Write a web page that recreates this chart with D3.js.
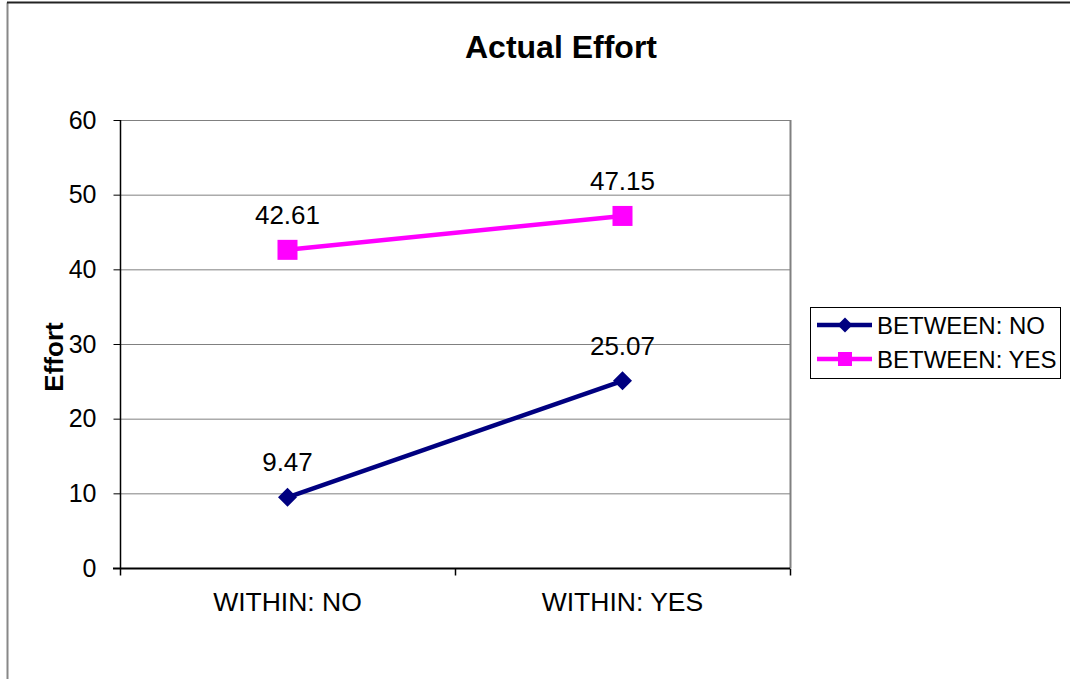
<!DOCTYPE html>
<html>
<head>
<meta charset="utf-8">
<script src="https://cdn.jsdelivr.net/npm/d3@7"></script>
<style>
  html, body { margin: 0; padding: 0; background: #fff; }
  svg { display: block; font-family: Arial, "Liberation Sans", sans-serif; }
</style>
</head>
<body>
<svg id="chart" width="1070" height="679"></svg>
<script>
// Data
const categories = ["WITHIN: NO", "WITHIN: YES"];
const seriesNames = ["BETWEEN: NO", "BETWEEN: YES"];
const betweenNo = [9.47, 25.07];
const betweenYes = [42.61, 47.15];
const yTicks = [0, 10, 20, 30, 40, 50, 60];

const series = [
  { name: seriesNames[0], values: betweenNo, color: "#000080", marker: "diamond" },
  { name: seriesNames[1], values: betweenYes, color: "#FF00FF", marker: "square" }
];

const svg = d3.select("#chart");
const W = 1070, H = 679;
const plot = { left: 120, right: 790, top: 120, bottom: 568 };
const FONT = "Arial, 'Liberation Sans', sans-serif";

// Outer chart frame
svg.append("line").attr("x1", 7.5).attr("x2", 7.5).attr("y1", 2.5).attr("y2", H)
  .attr("stroke", "#888").attr("stroke-width", 2);
svg.append("line").attr("x1", 7).attr("x2", W).attr("y1", 2.5).attr("y2", 2.5)
  .attr("stroke", "#222").attr("stroke-width", 2);

const x = d3.scaleBand().domain(categories).range([plot.left, plot.right]);
const y = d3.scaleLinear().domain([0, 60]).range([plot.bottom, plot.top]);

// Gridlines
svg.append("g").selectAll("line").data(yTicks.filter(d => d > 0)).join("line")
  .attr("x1", plot.left).attr("x2", plot.right)
  .attr("y1", d => y(d) + 0.5).attr("y2", d => y(d) + 0.5)
  .attr("stroke", "#808080").attr("stroke-width", 1);

// Plot area right border
svg.append("line").attr("x1", plot.right + 0.5).attr("x2", plot.right + 0.5)
  .attr("y1", plot.top).attr("y2", plot.bottom)
  .attr("stroke", "#808080").attr("stroke-width", 2);

// Y axis
const yAxis = d3.axisLeft(y).tickValues(yTicks).tickSize(7).tickPadding(17);
const gy = svg.append("g").attr("transform", `translate(${plot.left + 0.5},0)`).call(yAxis);
gy.attr("font-size", null).attr("font-family", null);
gy.select(".domain").attr("stroke", "#000").attr("stroke-width", 1.5).attr("d", `M0,${plot.top}V${plot.bottom}`);
gy.selectAll(".tick line").attr("stroke", "#000");
gy.selectAll(".tick text").attr("font-size", 25).attr("fill", "#000")
  .attr("font-family", FONT);

// X axis with ticks at category boundaries
const gx = svg.append("g").attr("transform", `translate(0,${plot.bottom + 0.5})`);
gx.append("line").attr("x1", plot.left - 7).attr("x2", plot.right)
  .attr("stroke", "#000").attr("stroke-width", 2);
const bounds = [plot.left, ...categories.map(c => x(c) + x.bandwidth())];
gx.selectAll("line.tk").data(bounds).join("line").attr("class", "tk")
  .attr("x1", d => d + 0.5).attr("x2", d => d + 0.5).attr("y1", 0).attr("y2", 7)
  .attr("stroke", "#000").attr("stroke-width", 1.5);
gx.selectAll("text").data(categories).join("text")
  .attr("x", d => x(d) + x.bandwidth() / 2).attr("y", 42)
  .attr("text-anchor", "middle").attr("font-size", 26.5).attr("fill", "#000")
  .text(d => d);

// Title
svg.append("text").attr("x", 561).attr("y", 58).attr("text-anchor", "middle")
  .attr("font-size", 32).attr("font-weight", "bold").text("Actual Effort");

// Y axis title
svg.append("text").attr("transform", "translate(63,357) rotate(-90)")
  .attr("text-anchor", "middle").attr("font-size", 26).attr("font-weight", "bold")
  .text("Effort");

const cx = c => x(c) + x.bandwidth() / 2;
const line = d3.line().x((d, i) => cx(categories[i])).y(d => y(d));

function drawMarker(g, type, color, px, py, s) {
  if (type === "diamond") {
    g.append("path").attr("d", `M${px},${py - s}L${px + s},${py}L${px},${py + s}L${px - s},${py}Z`)
      .attr("fill", color);
  } else {
    g.append("rect").attr("x", px - s).attr("y", py - s).attr("width", 2 * s).attr("height", 2 * s)
      .attr("fill", color);
  }
}

series.forEach(s => {
  const g = svg.append("g");
  g.append("path").datum(s.values).attr("d", line)
    .attr("fill", "none").attr("stroke", s.color).attr("stroke-width", 4.5);
  s.values.forEach((v, i) => {
    drawMarker(g, s.marker, s.color, cx(categories[i]), y(v), s.marker === "diamond" ? 9.5 : 10);
    g.append("text").attr("x", cx(categories[i])).attr("y", y(v) - 26)
      .attr("text-anchor", "middle").attr("font-size", 26).attr("fill", "#000")
      .text(v.toFixed(2));
  });
});

// Legend
const lg = svg.append("g");
lg.append("rect").attr("x", 810.5).attr("y", 307.5).attr("width", 250).attr("height", 71)
  .attr("fill", "#fff").attr("stroke", "#000").attr("stroke-width", 1);
series.forEach((s, i) => {
  const ly = 325 + i * 34;
  lg.append("line").attr("x1", 817).attr("x2", 872).attr("y1", ly).attr("y2", ly)
    .attr("stroke", s.color).attr("stroke-width", 4.5);
  drawMarker(lg, s.marker, s.color, 845, ly, s.marker === "diamond" ? 7.5 : 7);
  lg.append("text").attr("x", 877).attr("y", ly + 9).attr("font-size", 24).attr("fill", "#000")
    .text(s.name);
});
</script>
</body>
</html>
